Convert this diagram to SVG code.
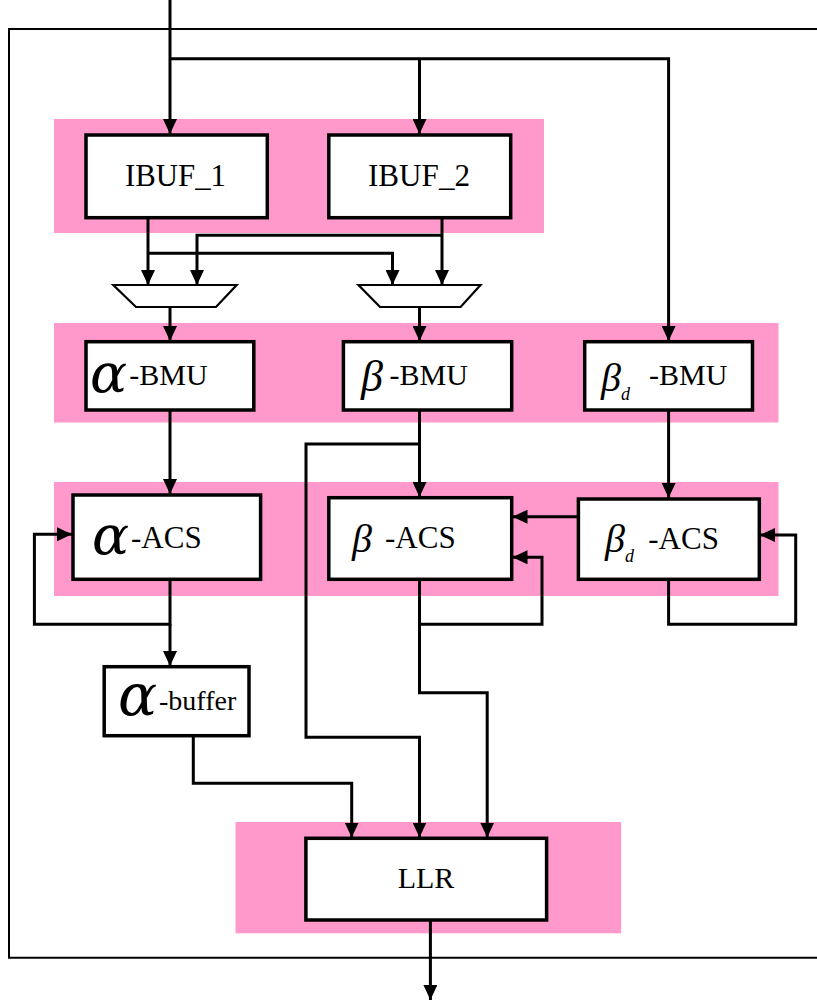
<svg xmlns="http://www.w3.org/2000/svg" width="817" height="1005" viewBox="0 0 817 1005">
<style>
.band{fill:#FF99CC;stroke:none}
.box{fill:#fff;stroke:#000;stroke-width:3.5}
.mux{fill:#fff;stroke:#000;stroke-width:2.2}
.arr{fill:none;stroke:#000;stroke-width:3;marker-end:url(#ah)}
text{font-family:"Liberation Serif","Times New Roman",serif;fill:#000}
.lbl{font-size:32px}
.gk{font-style:italic}
.al{font-family:"DejaVu Serif",serif;font-style:italic}
</style>
<defs>
<marker id="ah" markerUnits="userSpaceOnUse" markerWidth="15" markerHeight="14" viewBox="0 0 15 14" refX="15" refY="7" orient="auto">
<path d="M0,0 L15,7 L0,14 Z" fill="#000"/>
</marker>
</defs>
<rect width="817" height="1005" fill="#fff"/>
<path d="M830,29 H9 V957.7 H830" fill="none" stroke="#000" stroke-width="2"/>
<g id="bands">
<rect class="band" x="54" y="119" width="490" height="114"/>
<rect class="band" x="54" y="323" width="724.5" height="99.5"/>
<rect class="band" x="54" y="482" width="724.5" height="114"/>
<rect class="band" x="235.5" y="822" width="385.7" height="111.3"/>
</g>
<g id="connectors">
<path class="arr" d="M170,0 V134"/>
<path class="arr" d="M170,58.7 H668.6 V341"/>
<path class="arr" d="M419.5,58.7 V134"/>
<path class="arr" d="M148,217.7 V285"/>
<path class="arr" d="M148,253.3 H392.5 V285"/>
<path class="arr" d="M442,217.7 V285"/>
<path class="arr" d="M442,235.3 H197 V285"/>
<path class="arr" d="M170,307 V341"/>
<path class="arr" d="M419.5,307 V341"/>
<path class="arr" d="M170,410 V494"/>
<path class="arr" d="M419.5,410 V497"/>
<path class="arr" d="M419.5,444 H306 V737.3 H419.5 V837.5"/>
<path class="arr" d="M668.6,410 V498"/>
<path class="arr" d="M578.4,516.7 H512.5"/>
<path class="arr" d="M170,579.3 V624.3 H34.4 V534.3 H72"/>
<path class="arr" d="M170,624.3 V666"/>
<path class="arr" d="M419.5,579.3 V624.3 H542 V557.3 H512.5"/>
<path class="arr" d="M419.5,624.3 V692.7 H487.2 V837.5"/>
<path class="arr" d="M668.6,579.3 V624.3 H795.7 V535 H760"/>
<path class="arr" d="M193.3,735.7 V783.3 H351.7 V837.5"/>
<path class="arr" d="M430.4,920 V1000"/>
</g>
<g id="mux1"><polygon class="mux" points="113.3,285 236.7,285 216,307 136,307"/></g>
<g id="mux2"><polygon class="mux" points="358.5,285 480.5,285 460.6,307 380,307"/></g>
<g id="ibuf1">
<rect class="box" x="86" y="135" width="181.3" height="82.7"/>
<text class="lbl" x="125" y="186" textLength="101" lengthAdjust="spacingAndGlyphs">IBUF_1</text>
</g>
<g id="ibuf2">
<rect class="box" x="328.8" y="135" width="181.9" height="82.7"/>
<text class="lbl" x="368" y="186" textLength="102" lengthAdjust="spacingAndGlyphs">IBUF_2</text>
</g>
<g id="alpha-bmu">
<rect class="box" x="86" y="341.7" width="167.8" height="68.3"/>
<text><tspan class="al" x="90" y="392" font-size="55">α</tspan><tspan x="129.3" y="385" font-size="30">-BMU</tspan></text>
</g>
<g id="beta-bmu">
<rect class="box" x="343.4" y="341.7" width="168.3" height="68.3"/>
<text><tspan class="gk" x="361" y="391" font-size="44">β</tspan><tspan x="389.5" y="385" font-size="30">-BMU</tspan></text>
</g>
<g id="betad-bmu">
<rect class="box" x="584.7" y="341.7" width="167.8" height="68.3"/>
<text><tspan class="gk" x="601" y="391" font-size="40">β</tspan><tspan class="gk" x="621" y="400" font-size="18">d</tspan><tspan x="649" y="385" font-size="30">-BMU</tspan></text>
</g>
<g id="alpha-acs">
<rect class="box" x="73" y="495" width="187.6" height="84.3"/>
<text><tspan class="al" x="92" y="554" font-size="55">α</tspan><tspan x="131" y="548" font-size="31">-ACS</tspan></text>
</g>
<g id="beta-acs">
<rect class="box" x="328.8" y="497.7" width="182.9" height="81.6"/>
<text><tspan class="gk" x="352" y="552" font-size="40">β</tspan><tspan x="385" y="548" font-size="31">-ACS</tspan></text>
</g>
<g id="betad-acs">
<rect class="box" x="578.4" y="499" width="180.9" height="80.3"/>
<text><tspan class="gk" x="605" y="552" font-size="40">β</tspan><tspan class="gk" x="625" y="561.5" font-size="18">d</tspan><tspan x="648.3" y="549" font-size="31">-ACS</tspan></text>
</g>
<g id="alpha-buffer">
<rect class="box" x="104.2" y="666.7" width="144.8" height="69"/>
<text><tspan class="al" x="118" y="715" font-size="58">α</tspan><tspan x="159" y="710" font-size="28">-buffer</tspan></text>
</g>
<g id="llr">
<rect class="box" x="305.9" y="838.3" width="240.7" height="81.7"/>
<text x="426" y="888" font-size="30" text-anchor="middle">LLR</text>
</g>
</svg>
